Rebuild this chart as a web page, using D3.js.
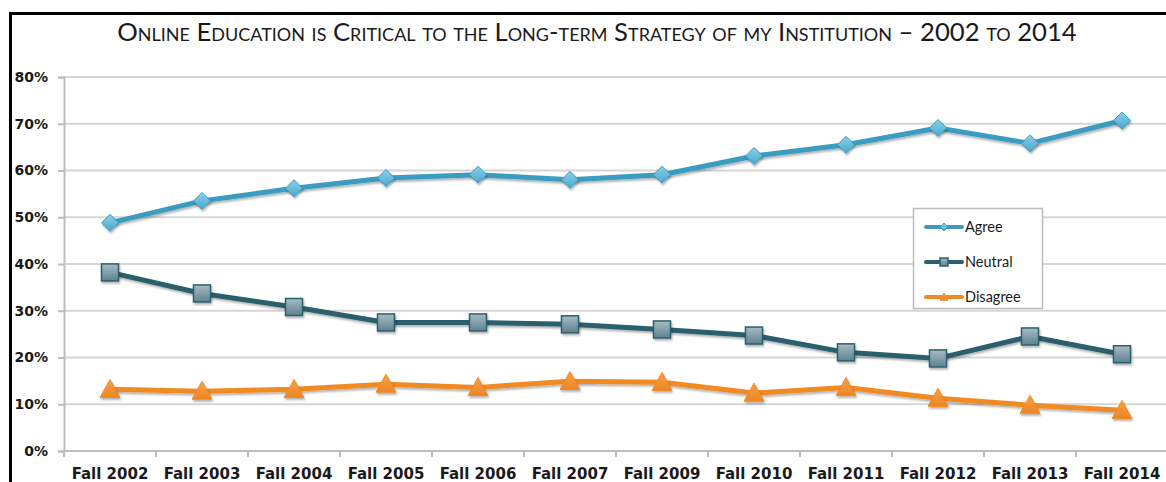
<!DOCTYPE html>
<html>
<head>
<meta charset="utf-8">
<script src="https://cdn.jsdelivr.net/npm/d3@7"></script>
<style>
  html, body { margin: 0; padding: 0; background: #fff; }
  svg { display: block; }
</style>
</head>
<body>
<div id="chart"></div>
<script>
// data
var categories = ["Fall 2002", "Fall 2003", "Fall 2004", "Fall 2005", "Fall 2006", "Fall 2007",
                  "Fall 2009", "Fall 2010", "Fall 2011", "Fall 2012", "Fall 2013", "Fall 2014"];
var agree    = [48.8, 53.5, 56.2, 58.4, 59.1, 58.0, 59.1, 63.1, 65.5, 69.1, 65.8, 70.7];
var neutral  = [38.2, 33.7, 30.8, 27.5, 27.5, 27.1, 26.0, 24.7, 21.1, 19.8, 24.5, 20.7];
var disagree = [13.2, 12.8, 13.2, 14.3, 13.6, 14.9, 14.7, 12.4, 13.6, 11.3, 9.8, 8.7];
var seriesNames = ["Agree", "Neutral", "Disagree"];
var yTicks = [0, 10, 20, 30, 40, 50, 60, 70, 80];
var titleText = "Online Education is Critical to the Long-term Strategy of my Institution \u2013 2002 to 2014";

var width = 1166, height = 482;
var plotLeft = 64, plotRight = 1168, plotTop = 77, plotBottom = 451;

var svg = d3.select("#chart").append("svg")
  .attr("width", width)
  .attr("height", height);

var defs = svg.append("defs");
var shadow = defs.append("filter").attr("id", "shadow")
  .attr("x", "-50%").attr("y", "-50%").attr("width", "200%").attr("height", "200%");
shadow.append("feDropShadow")
  .attr("dx", 1).attr("dy", 2).attr("stdDeviation", 1.2)
  .attr("flood-color", "#000").attr("flood-opacity", 0.3);

var sqGrad = defs.append("linearGradient").attr("id", "sqGrad")
  .attr("x1", 0).attr("y1", 0).attr("x2", 0).attr("y2", 1);
sqGrad.append("stop").attr("offset", "0%").attr("stop-color", "#a7bcc4");
sqGrad.append("stop").attr("offset", "100%").attr("stop-color", "#5d8291");

var dmGrad = defs.append("linearGradient").attr("id", "dmGrad")
  .attr("x1", 0).attr("y1", 0).attr("x2", 0).attr("y2", 1);
dmGrad.append("stop").attr("offset", "0%").attr("stop-color", "#8ad0ea");
dmGrad.append("stop").attr("offset", "100%").attr("stop-color", "#4aa8cf");

var trGrad = defs.append("linearGradient").attr("id", "trGrad")
  .attr("x1", 0).attr("y1", 0).attr("x2", 0).attr("y2", 1);
trGrad.append("stop").attr("offset", "0%").attr("stop-color", "#f7a04a");
trGrad.append("stop").attr("offset", "100%").attr("stop-color", "#ee8622");

// frame
svg.append("line")
  .attr("x1", 10).attr("y1", 13.5).attr("x2", width).attr("y2", 13.5)
  .attr("stroke", "#000").attr("stroke-width", 3);
svg.append("line")
  .attr("x1", 10.5).attr("y1", 12).attr("x2", 10.5).attr("y2", height)
  .attr("stroke", "#000").attr("stroke-width", 3);

// title
var title = svg.append("text")
  .attr("x", 597).attr("y", 41)
  .attr("text-anchor", "middle")
  .style("font-family", "Lato, 'Open Sans', sans-serif")
  .style("font-variant", "small-caps")
  .style("font-size", "20px")
  .attr("fill", "#1a1a1a")
  .text(titleText);
var tw = title.node().getComputedTextLength();
title.style("font-size", (20 * 959 / tw) + "px");

// scales
var x = d3.scaleBand().domain(categories).range([plotLeft, plotRight]);
var y = d3.scaleLinear().domain([0, 80]).range([plotBottom, plotTop]);

// gridlines
svg.append("g").selectAll("line")
  .data(yTicks.slice(1))
  .join("line")
  .attr("x1", plotLeft).attr("x2", width)
  .attr("y1", d => y(d)).attr("y2", d => y(d))
  .attr("stroke", "#d6d6d6").attr("stroke-width", 2);

// y axis
var yAxis = svg.append("g")
  .attr("transform", "translate(" + plotLeft + ",0)")
  .call(d3.axisLeft(y).tickValues(yTicks).tickFormat(d => d + "%").tickSize(6).tickPadding(10));
yAxis.select(".domain").attr("stroke", "#bdbdbd").attr("stroke-width", 2);
yAxis.selectAll(".tick line").attr("stroke", "#bdbdbd").attr("stroke-width", 2);
yAxis.selectAll("text")
  .style("font-family", "'DejaVu Sans', sans-serif")
  .style("font-weight", "bold")
  .style("font-size", "14px")
  .attr("fill", "#1a1a1a");

// x axis
var xAxis = svg.append("g")
  .attr("transform", "translate(0," + plotBottom + ")")
  .call(d3.axisBottom(x).tickSize(0).tickPadding(17));
xAxis.select(".domain").remove();
xAxis.append("line")
  .attr("x1", plotLeft).attr("x2", width).attr("y1", 0).attr("y2", 0)
  .attr("stroke", "#bdbdbd").attr("stroke-width", 2);
xAxis.selectAll("line.bound")
  .data(categories)
  .join("line")
  .attr("class", "bound")
  .attr("x1", d => x(d)).attr("x2", d => x(d))
  .attr("y1", 0).attr("y2", 6)
  .attr("stroke", "#bdbdbd").attr("stroke-width", 2);
xAxis.selectAll(".tick text")
  .style("font-family", "'DejaVu Sans', sans-serif")
  .style("font-weight", "bold")
  .style("font-size", "15px")
  .attr("fill", "#1a1a1a");

// series
var series = [
  { name: seriesNames[0], values: agree, line: "#3b9cc2", marker: "diamond" },
  { name: seriesNames[1], values: neutral, line: "#2c5f6d", marker: "square" },
  { name: seriesNames[2], values: disagree, line: "#f08a23", marker: "triangle" }
];

var cx = d => x(d) + x.bandwidth() / 2;
var lineGen = d3.line()
  .x((d, i) => cx(categories[i]))
  .y(d => y(d));

function drawMarker(g, type, size) {
  if (type === "diamond") {
    g.append("path")
      .attr("d", "M0," + (-size / 2) + "L" + (size / 2) + ",0L0," + (size / 2) + "L" + (-size / 2) + ",0Z")
      .attr("fill", "url(#dmGrad)").attr("stroke", "#3b9cc2").attr("stroke-width", 1);
  } else if (type === "square") {
    g.append("rect")
      .attr("x", -size / 2).attr("y", -size / 2).attr("width", size).attr("height", size)
      .attr("fill", "url(#sqGrad)").attr("stroke", "#2c5f6d").attr("stroke-width", 1.5);
  } else {
    g.append("path")
      .attr("d", "M0," + (-size * 0.55) + "L" + (size * 0.55) + "," + (size * 0.45) + "L" + (-size * 0.55) + "," + (size * 0.45) + "Z")
      .attr("fill", "url(#trGrad)").attr("stroke", "#ef8a25").attr("stroke-width", 1);
  }
}

var markerSize = { diamond: 17, square: 17, triangle: 18 };

series.forEach(function (s) {
  svg.append("path")
    .datum(s.values)
    .attr("d", lineGen)
    .attr("fill", "none")
    .attr("stroke", s.line)
    .attr("stroke-width", 5)
    .attr("stroke-linejoin", "round")
    .attr("filter", "url(#shadow)");
  svg.append("g").selectAll("g")
    .data(s.values)
    .join("g")
    .attr("transform", (d, i) => "translate(" + cx(categories[i]) + "," + y(d) + ")")
    .attr("filter", "url(#shadow)")
    .each(function () { drawMarker(d3.select(this), s.marker, markerSize[s.marker]); });
});

// legend
var legend = svg.append("g").attr("transform", "translate(913,208)");
legend.append("rect")
  .attr("x", 0.5).attr("y", 0.5).attr("width", 129).attr("height", 100)
  .attr("fill", "#fff").attr("stroke", "#bcbcbc").attr("stroke-width", 1.5);
var items = legend.selectAll("g.item")
  .data(series)
  .join("g")
  .attr("class", "item")
  .attr("transform", (d, i) => "translate(0," + (19 + i * 35) + ")");
items.append("line")
  .attr("x1", 13).attr("x2", 49).attr("y1", 0).attr("y2", 0)
  .attr("stroke", d => d.line).attr("stroke-width", 4)
  .attr("stroke-linecap", "round");
items.each(function (d) {
  var g = d3.select(this).append("g").attr("transform", "translate(31,0)");
  var sz = d.marker === "diamond" ? 8 : (d.marker === "square" ? 8 : 7);
  drawMarker(g, d.marker, sz);
});
items.append("text")
  .attr("x", 52).attr("y", 5)
  .style("font-family", "Lato, 'Open Sans', sans-serif")
  .style("font-size", "14.5px")
  .attr("fill", "#1a1a1a")
  .text(d => d.name);
</script>
</body>
</html>
